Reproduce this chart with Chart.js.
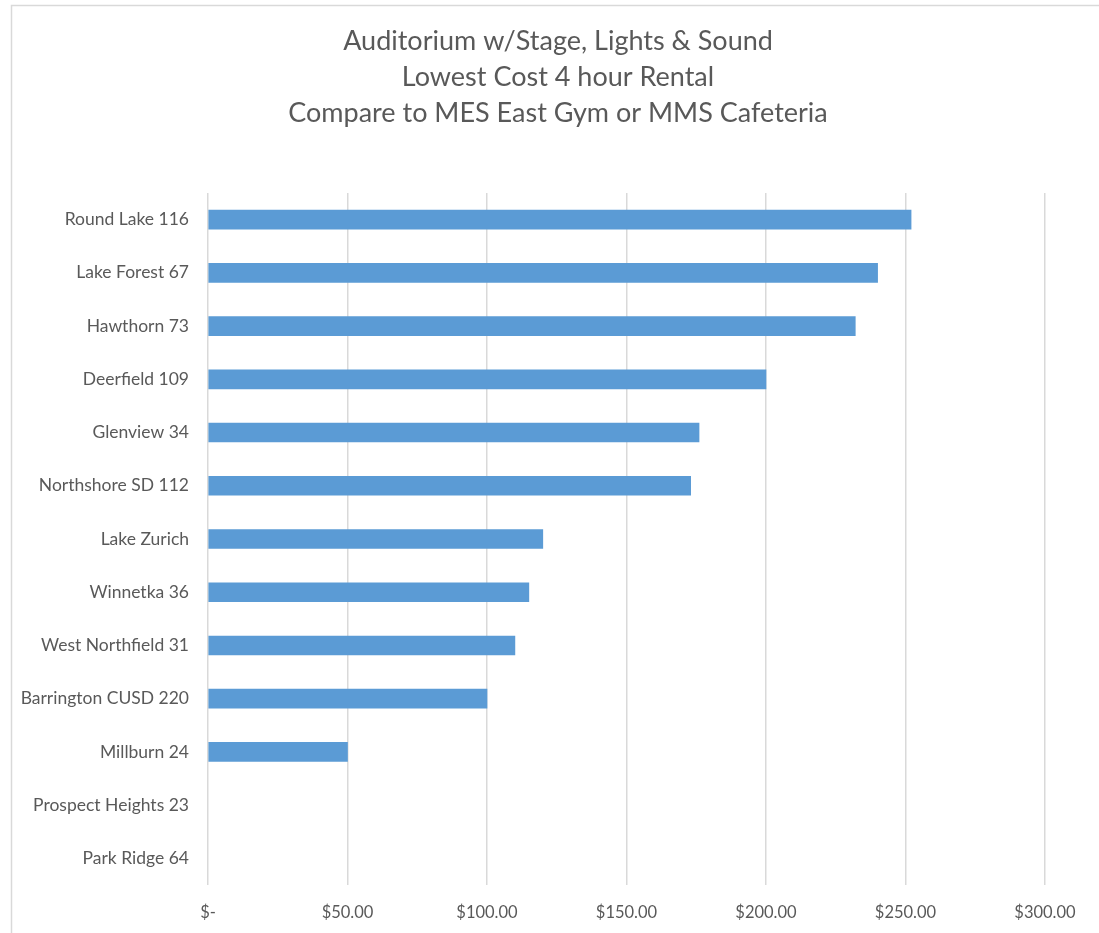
<!DOCTYPE html>
<html>
<head>
<meta charset="utf-8">
<script src="https://cdn.jsdelivr.net/npm/chart.js@4"></script>
<style>
  html, body { margin: 0; padding: 0; background: #fff; }
  #wrap { width: 1099px; height: 933px; position: relative; }
</style>
</head>
<body>
<div id="wrap"><canvas id="chart"></canvas></div>
<script>
  const districts = ["Round Lake 116", "Lake Forest 67", "Hawthorn 73", "Deerfield 109", "Glenview 34",
    "Northshore SD 112", "Lake Zurich", "Winnetka 36", "West Northfield 31", "Barrington CUSD 220",
    "Millburn 24", "Prospect Heights 23", "Park Ridge 64"];
  const rentalCost = [252, 240, 232, 200, 176, 173, 120, 115, 110, 100, 50, 0, 0];
  const titleLines = ["Auditorium w/Stage, Lights & Sound", "Lowest Cost 4 hour Rental", "Compare to MES East Gym or MMS Cafeteria"];

  const textColor = "#595959";
  const fontName = "Lato, 'Open Sans', sans-serif";

  // light frame around the whole chart like the spreadsheet export
  const frame = {
    id: 'frame',
    beforeDraw(chart) {
      const c = chart.ctx;
      c.save();
      c.fillStyle = '#fff';
      c.fillRect(0, 0, chart.width, chart.height);
      c.strokeStyle = '#d9d9d9';
      c.lineWidth = 1.5;
      c.strokeRect(11.5, 5.5, chart.width + 20, chart.height + 20);
      c.restore();
    }
  };

  // title is centred on the framed box, not on the plot, so draw it by hand
  const titleBlock = {
    id: 'titleBlock',
    afterDraw(chart) {
      const c = chart.ctx;
      c.save();
      c.fillStyle = textColor;
      c.font = "27px " + fontName;
      c.textAlign = 'center';
      c.textBaseline = 'middle';
      titleLines.forEach((line, i) => c.fillText(line, 558, 41 + i * 36));
      c.restore();
    }
  };

  new Chart('chart', {
    type: 'bar',
    data: {
      labels: districts,
      datasets: [{
        data: rentalCost,
        // zero bars are not drawn in the original
        backgroundColor: ctx => ctx.raw ? "#5b9bd5" : "rgba(0,0,0,0)",
        barThickness: 19
      }]
    },
    plugins: [frame, titleBlock],
    options: {
      indexAxis: 'y',
      responsive: true,
      maintainAspectRatio: false,
      animation: false,
      layout: { padding: { top: 193, right: 54, left: 0, bottom: 0 } },
      plugins: {
        legend: { display: false },
        tooltip: { enabled: false },
        title: { display: false }
      },
      scales: {
        x: {
          min: 0,
          max: 300,
          ticks: {
            stepSize: 50,
            color: textColor,
            font: { family: fontName, size: 16.5 },
            padding: 18,
            callback: v => v === 0 ? "$-" : "$" + v.toFixed(2)
          },
          grid: { color: "#d9d9d9", lineWidth: 1.5, drawTicks: false },
          border: { display: false },
          afterFit: s => { s.height = 48; }
        },
        y: {
          ticks: {
            color: textColor,
            font: { family: fontName, size: 17.5 },
            padding: 19
          },
          grid: { display: false, drawTicks: false },
          border: { display: false },
          afterFit: s => { s.width = 208; }
        }
      }
    }
  });
</script>
</body>
</html>
